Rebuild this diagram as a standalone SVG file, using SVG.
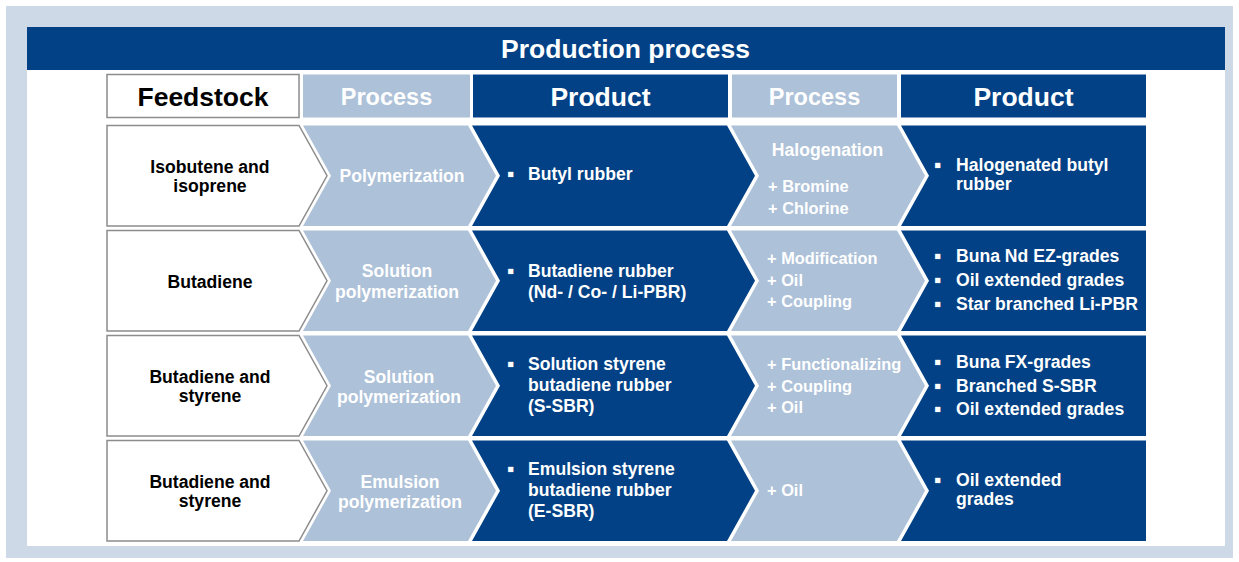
<svg xmlns="http://www.w3.org/2000/svg" width="1239" height="562" viewBox="0 0 1239 562">
<style>
  text{font-family:"Liberation Sans",Arial,"DejaVu Sans",sans-serif;font-weight:bold}
  .dark{fill:#024185}
  .light{fill:#adc1d8}
  .feed{fill:#ffffff;stroke:#8c8c8c;stroke-width:1.5}
  .hdr{font-size:26.5px;text-anchor:middle}
  .hp{font-size:23.5px;text-anchor:middle}
  .w{fill:#ffffff}
  .k{fill:#000000}
  .t{font-size:17.6px}
  .p{font-size:16.4px}
  .c{text-anchor:middle}
  .b{font-size:21px}
</style>
<rect x="6" y="6" width="1227" height="552" fill="#cdd9e6"/>
<rect x="27" y="27" width="1198" height="519" fill="#ffffff"/>
<g id="title">
  <rect x="27" y="27" width="1198" height="43" class="dark"/>
  <text x="625.5" y="58" class="w c" style="font-size:26.5px">Production process</text>
</g>
<g id="headers">
  <g id="h-feedstock"><rect x="107" y="74.5" width="192" height="43" class="feed"/><text x="203" y="106" class="hdr k">Feedstock</text></g>
  <g id="h-process1"><rect x="303" y="74.5" width="167" height="43" class="light"/><text x="386.5" y="105" class="hp w">Process</text></g>
  <g id="h-product1"><rect x="473" y="74.5" width="255" height="43" class="dark"/><text x="600.5" y="106" class="hdr w">Product</text></g>
  <g id="h-process2"><rect x="732" y="74.5" width="165" height="43" class="light"/><text x="814.5" y="105" class="hp w">Process</text></g>
  <g id="h-product2"><rect x="901" y="74.5" width="245" height="43" class="dark"/><text x="1023.5" y="106" class="hdr w">Product</text></g>
</g>
<g id="connectors"></g>

<!-- Row 1 -->
<g id="r1-feed">
  <path d="M107,125.5 H299 L327,175.75 L299,226 H107 Z" class="feed"/>
  <text x="210" y="172.5" class="t k c">Isobutene and</text>
  <text x="210" y="191.5" class="t k c">isoprene</text>
</g>
<g id="r1-process">
  <path d="M303,125.5 H468 L496,175.75 L468,226 H303 L331,175.75 Z" class="light"/>
  <text x="402" y="182" class="t w c">Polymerization</text>
</g>
<g id="r1-product">
  <path d="M472,125.5 H727 L755,175.75 L727,226 H472 L500,175.75 Z" class="dark"/>
  <text x="507" y="181" class="b w">▪</text>
  <text x="528" y="180" class="t w">Butyl rubber</text>
</g>
<g id="r1-process2">
  <path d="M731,125.5 H897 L925,175.75 L897,226 H731 L759,175.75 Z" class="light"/>
  <text x="827.5" y="156" class="t w c">Halogenation</text>
  <text x="768" y="192" class="p w">+ Bromine</text>
  <text x="768" y="213.5" class="p w">+ Chlorine</text>
</g>
<g id="r1-product2">
  <path d="M901,125.5 H1146 V226 H901 L929,175.75 Z" class="dark"/>
  <text x="934" y="171.7" class="b w">▪</text>
  <text x="956" y="170.7" class="t w">Halogenated butyl</text>
  <text x="956" y="190" class="t w">rubber</text>
</g>

<!-- Row 2 -->
<g id="r2-feed">
  <path d="M107,230.5 H299 L327,280.75 L299,331 H107 Z" class="feed"/>
  <text x="210" y="288" class="t k c">Butadiene</text>
</g>
<g id="r2-process">
  <path d="M303,230.5 H468 L496,280.75 L468,331 H303 L331,280.75 Z" class="light"/>
  <text x="397" y="277.3" class="t w c">Solution</text>
  <text x="397" y="298.3" class="t w c">polymerization</text>
</g>
<g id="r2-product">
  <path d="M472,230.5 H727 L755,280.75 L727,331 H472 L500,280.75 Z" class="dark"/>
  <text x="507" y="278.3" class="b w">▪</text>
  <text x="528" y="277.3" class="t w">Butadiene rubber</text>
  <text x="528" y="298" class="t w">(Nd- / Co- / Li-PBR)</text>
</g>
<g id="r2-process2">
  <path d="M731,230.5 H897 L925,280.75 L897,331 H731 L759,280.75 Z" class="light"/>
  <text x="767" y="264" class="p w">+ Modification</text>
  <text x="767" y="285.5" class="p w">+ Oil</text>
  <text x="767" y="307" class="p w">+ Coupling</text>
</g>
<g id="r2-product2">
  <path d="M901,230.5 H1146 V331 H901 L929,280.75 Z" class="dark"/>
  <text x="934" y="262.7" class="b w">▪</text>
  <text x="956" y="261.7" class="t w">Buna Nd EZ-grades</text>
  <text x="934" y="286.7" class="b w">▪</text>
  <text x="956" y="285.7" class="t w">Oil extended grades</text>
  <text x="934" y="311" class="b w">▪</text>
  <text x="956" y="310" class="t w">Star branched Li-PBR</text>
</g>

<!-- Row 3 -->
<g id="r3-feed">
  <path d="M107,335.5 H299 L327,385.75 L299,436 H107 Z" class="feed"/>
  <text x="210" y="383" class="t k c">Butadiene and</text>
  <text x="210" y="402.3" class="t k c">styrene</text>
</g>
<g id="r3-process">
  <path d="M303,335.5 H468 L496,385.75 L468,436 H303 L331,385.75 Z" class="light"/>
  <text x="399" y="383.3" class="t w c">Solution</text>
  <text x="399" y="403.3" class="t w c">polymerization</text>
</g>
<g id="r3-product">
  <path d="M472,335.5 H727 L755,385.75 L727,436 H472 L500,385.75 Z" class="dark"/>
  <text x="507" y="371" class="b w">▪</text>
  <text x="528" y="370" class="t w">Solution styrene</text>
  <text x="528" y="391" class="t w">butadiene rubber</text>
  <text x="528" y="411.7" class="t w">(S-SBR)</text>
</g>
<g id="r3-process2">
  <path d="M731,335.5 H897 L925,385.75 L897,436 H731 L759,385.75 Z" class="light"/>
  <text x="767" y="370" class="p w">+ Functionalizing</text>
  <text x="767" y="391.7" class="p w">+ Coupling</text>
  <text x="767" y="412.7" class="p w">+ Oil</text>
</g>
<g id="r3-product2">
  <path d="M901,335.5 H1146 V436 H901 L929,385.75 Z" class="dark"/>
  <text x="934" y="369.3" class="b w">▪</text>
  <text x="956" y="368.3" class="t w">Buna FX-grades</text>
  <text x="934" y="392.7" class="b w">▪</text>
  <text x="956" y="391.7" class="t w">Branched S-SBR</text>
  <text x="934" y="416" class="b w">▪</text>
  <text x="956" y="415" class="t w">Oil extended grades</text>
</g>

<!-- Row 4 -->
<g id="r4-feed">
  <path d="M107,440.5 H299 L327,490.75 L299,541 H107 Z" class="feed"/>
  <text x="210" y="488.3" class="t k c">Butadiene and</text>
  <text x="210" y="507.3" class="t k c">styrene</text>
</g>
<g id="r4-process">
  <path d="M303,440.5 H468 L496,490.75 L468,541 H303 L331,490.75 Z" class="light"/>
  <text x="400" y="488.3" class="t w c">Emulsion</text>
  <text x="400" y="507.8" class="t w c">polymerization</text>
</g>
<g id="r4-product">
  <path d="M472,440.5 H727 L755,490.75 L727,541 H472 L500,490.75 Z" class="dark"/>
  <text x="507" y="476" class="b w">▪</text>
  <text x="528" y="475" class="t w">Emulsion styrene</text>
  <text x="528" y="496" class="t w">butadiene rubber</text>
  <text x="528" y="516.7" class="t w">(E-SBR)</text>
</g>
<g id="r4-process2">
  <path d="M731,440.5 H897 L925,490.75 L897,541 H731 L759,490.75 Z" class="light"/>
  <text x="767" y="495.7" class="p w">+ Oil</text>
</g>
<g id="r4-product2">
  <path d="M901,440.5 H1146 V541 H901 L929,490.75 Z" class="dark"/>
  <text x="934" y="487" class="b w">▪</text>
  <text x="956" y="486" class="t w">Oil extended</text>
  <text x="956" y="505" class="t w">grades</text>
</g>
</svg>
